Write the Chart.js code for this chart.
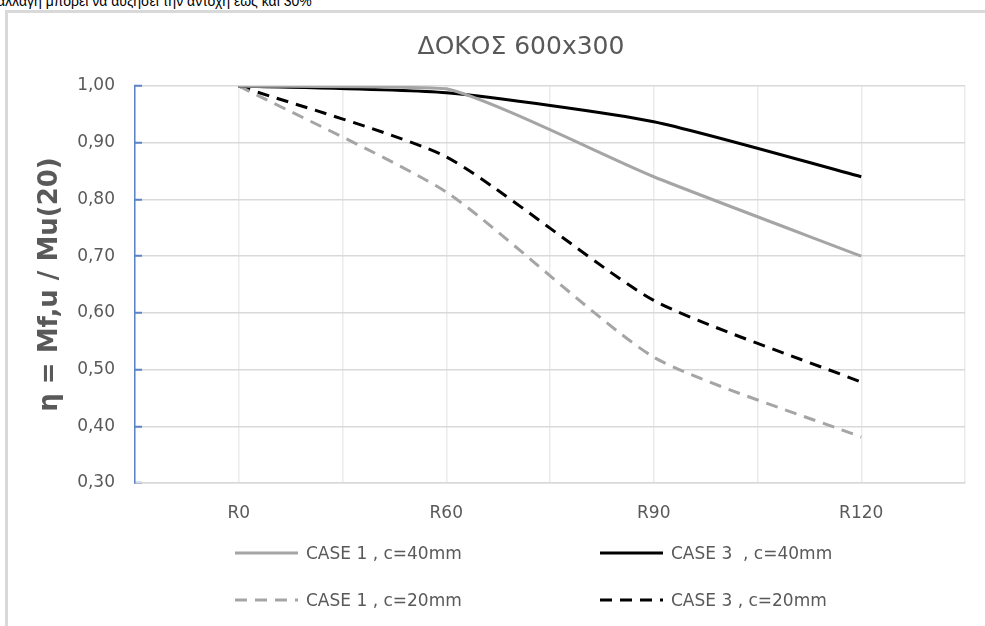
<!DOCTYPE html>
<html lang="el">
<head>
<meta charset="utf-8">
<title>ΔΟΚΟΣ 600x300</title>
<script src="https://cdn.jsdelivr.net/npm/chart.js@4.4.0/dist/chart.umd.min.js"></script>
<style>
    html, body { margin: 0; padding: 0; background: #fff; }
    body { width: 985px; height: 626px; position: relative; overflow: hidden; font-family: "DejaVu Sans", sans-serif; }
    .note { position: absolute; left: -3px; top: -6px; font-family: "Liberation Sans", sans-serif; font-size: 14px; line-height: 14px; color: #000; white-space: nowrap; }
    .frame { position: absolute; left: 5px; top: 10px; width: 1000px; height: 700px; border-left: 3px solid #d9d9d9; border-top: 3px solid #d9d9d9; }
    .chart-box { position: absolute; left: 0; top: 0; width: 985px; height: 626px; }
    #legend { position: absolute; left: 235px; top: 540px; }
    #legend ul { list-style: none; margin: 0; padding: 0; display: grid; grid-template-columns: 365px 240px; grid-auto-rows: 47px; }
    #legend li { display: flex; align-items: center; height: 26px; color: #595959; font-size: 17px; white-space: pre; }
    #legend svg { margin-right: 8px; flex: none; }
</style>
</head>
<body>
<div class="note">αλλαγή μπορεί να αυξήσει την αντοχή έως και 30%</div>
<div class="frame"></div>
<div class="chart-box"><canvas id="beamChart"></canvas></div>
<div id="legend"></div>

<script>
// Chart data
const categories = ['R0', 'R60', 'R90', 'R120'];
const seriesLabels = ['CASE 1 , c=40mm', 'CASE 3  , c=40mm', 'CASE 1 , c=20mm', 'CASE 3 , c=20mm'];
const case1c40 = [1.00, 0.995, 0.84, 0.70];
const case3c40 = [1.00, 0.988, 0.937, 0.84];
const case1c20 = [1.00, 0.813, 0.522, 0.381];
const case3c20 = [1.00, 0.875, 0.622, 0.478];
const yMin = 0.3;
const yMax = 1.0;
const yStep = 0.1;

const FONT = '"DejaVu Sans", sans-serif';
const TEXT_GREY = '#595959';
const PAD_LEFT = 72;

// one {x, y} point per category, x is the category index
function toPoints(values) {
    return values.map((v, i) => ({ x: i, y: v }));
}

// HTML legend in two columns, built from the chart datasets
const htmlLegend = {
    id: 'htmlLegend',
    afterUpdate(chart) {
        const box = document.getElementById('legend');
        box.innerHTML = '';
        const ul = document.createElement('ul');
        chart.data.datasets.forEach(ds => {
            const li = document.createElement('li');
            const dash = (ds.borderDash || []).join(',');
            li.innerHTML =
                '<svg width="63" height="6"><line x1="0" y1="3" x2="63" y2="3" stroke="' + ds.borderColor +
                '" stroke-width="3"' + (dash ? ' stroke-dasharray="' + dash + '"' : '') + '/></svg>';
            const span = document.createElement('span');
            span.textContent = ds.label;
            li.appendChild(span);
            ul.appendChild(li);
        });
        box.appendChild(ul);
    }
};

function drawBeamChart() {
    try {
        const ctx = document.getElementById('beamChart');
        if (!ctx) {
            console.warn('Chart canvas not found');
            return;
        }

        const datasets = [
            { label: seriesLabels[0], data: toPoints(case1c40), borderColor: '#a5a5a5' },
            { label: seriesLabels[1], data: toPoints(case3c40), borderColor: '#000000' },
            { label: seriesLabels[2], data: toPoints(case1c20), borderColor: '#a5a5a5', borderDash: [12, 8] },
            { label: seriesLabels[3], data: toPoints(case3c20), borderColor: '#000000', borderDash: [12, 8] }
        ];

        new Chart(ctx, {
            type: 'line',
            data: { datasets },
            plugins: [htmlLegend],
            options: {
                responsive: true,
                maintainAspectRatio: false,
                animation: false,
                layout: { padding: { left: PAD_LEFT, right: 15, top: 13, bottom: 93 } },
                elements: {
                    point: { radius: 0 },
                    line: { borderWidth: 3, tension: 0.2, fill: false }
                },
                plugins: {
                    legend: { display: false },
                    tooltip: { enabled: false },
                    title: {
                        display: true,
                        text: 'ΔΟΚΟΣ 600x300',
                        color: TEXT_GREY,
                        font: { family: FONT, size: 25, weight: 'normal' },
                        padding: { top: 19, bottom: 24 }
                    }
                },
                scales: {
                    x: {
                        type: 'linear',
                        min: -0.5,
                        max: categories.length - 0.5,
                        afterFit: axis => { axis.height = 50; },
                        grid: { color: '#ebebeb', lineWidth: 1.5, drawTicks: false },
                        border: { color: '#d9d9d9', width: 1.5 },
                        ticks: {
                            stepSize: 0.5,
                            autoSkip: false,
                            maxRotation: 0,
                            padding: 20,
                            color: TEXT_GREY,
                            font: { family: FONT, size: 17 },
                            callback: v => Number.isInteger(v) ? categories[v] : ''
                        }
                    },
                    y: {
                        min: yMin,
                        max: yMax,
                        afterFit: axis => { axis.width = 135 - PAD_LEFT; },
                        // short blue ticks drawn inside the plot
                        grid: { color: '#d9d9d9', lineWidth: 1.5, drawTicks: true, tickLength: -7, tickColor: '#5b84c8', tickWidth: 2 },
                        border: { color: '#5b84c8', width: 1.5 },
                        ticks: {
                            stepSize: yStep,
                            padding: 27,
                            color: TEXT_GREY,
                            font: { family: FONT, size: 17 },
                            callback: v => v.toFixed(2).replace('.', ',')
                        },
                        title: {
                            display: true,
                            text: 'η = Mf,u / Mu(20)',
                            color: TEXT_GREY,
                            font: { family: FONT, size: 26, weight: 'bold' },
                            padding: { top: 50 - PAD_LEFT - 15.6, bottom: 0 }
                        }
                    }
                }
            }
        });
    } catch (error) {
        console.error('Error drawing chart:', error);
    }
}

document.addEventListener('DOMContentLoaded', drawBeamChart);
</script>
</body>
</html>
